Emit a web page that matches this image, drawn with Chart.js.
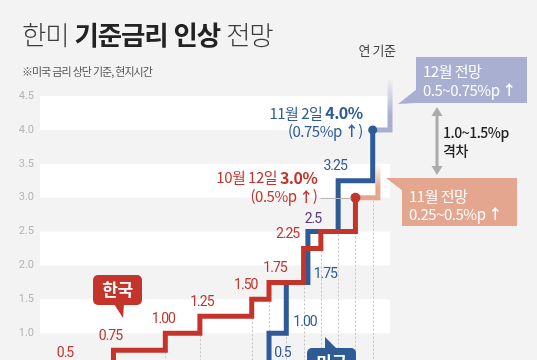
<!DOCTYPE html>
<html lang="ko">
<head>
<meta charset="utf-8">
<title>한미 기준금리 인상 전망</title>
<script src="https://cdn.jsdelivr.net/npm/chart.js@4.4.1/dist/chart.umd.min.js"></script>
<style>
  html, body { margin: 0; padding: 0; background: #f3f3f3; overflow: hidden; width: 537px; height: 360px; }
  #wrap { position: relative; width: 537px; height: 420px; }
  canvas { position: absolute; left: 0; top: 0; }
  #title { position: absolute; left: 22px; top: 21px; font-family: "Noto Sans CJK KR"; font-size: 26.5px; line-height: 1;
           color: #3c3c3c; letter-spacing: -1.2px; white-space: nowrap; }
  #title .thin { font-weight: 300; }
  #title b { font-weight: 700; color: #222; }
  #sub { position: absolute; left: 22px; top: 63px; font-family: "Noto Sans CJK KR"; font-size: 11px; color: #555;
         letter-spacing: -1px; white-space: nowrap; }
</style>
</head>
<body>
<div id="wrap">
  <canvas id="graph" width="537" height="420"></canvas>
  <div id="title"><span class="thin">한미</span> <b>기준금리 인상</b> <span class="thin">전망</span></div>
  <div id="sub">※미국 금리 상단 기준, 현지시간</div>
</div>
<script>
// x = months counted from 2021-04 (0) to 2022-12 (20)
const korMonths = [-0.25, 4, 7, 9, 12, 13, 15, 16, 18];
const korRates = [0.5, 0.75, 1.0, 1.25, 1.5, 1.75, 2.25, 2.5, 3.0];
const korLabels = ["0.5", "0.75", "1.00", "1.25", "1.50", "1.75", "2.25", "", ""];

const usMonths = [11, 13, 14, 15.25, 17, 19];
const usRates = [0.5, 1.0, 1.75, 2.5, 3.25, 4.0];
const usLabels = ["0.5", "1.00", "1.75", "2.5", "3.25", ""];

// outlook (Korea: Nov, US: Dec)
const korOutlookMonths = [18, 19.3];
const korOutlookRates = [3.0, 3.5];
const usOutlookMonths = [19, 20];
const usOutlookRates = [4.0, 4.75];

// dotted month guides under the Korea line
const guideMonths = [7, 9, 12, 13, 14, 15, 16, 17, 18, 19];

const RED = "#c5342b";
const BLUE = "#2e5a96";
const SALMON = "#e4a68f";
const LAVENDER = "#a9afd1";
const KR = "'Noto Sans CJK KR', sans-serif";

// label nudges (px)
const korLabelDx = [25, -3, -2, 2, -6, 6, -16];
const usLabelDx = [48, 36, 39, 5, -3];
const usLabelDy = [-14, -11, -8, -12, -14];

function toPoints(xs, ys) {
  return xs.map((x, i) => ({ x: x, y: ys[i] }));
}

function fade(color, clear, from, to) {
  return (c) => {
    const chart = c.chart;
    if (!chart.chartArea) return color;
    const y = chart.scales.y;
    const g = chart.ctx.createLinearGradient(0, y.getPixelForValue(from), 0, y.getPixelForValue(to));
    g.addColorStop(0, color);
    g.addColorStop(0.3, color);
    g.addColorStop(1, clear);
    return g;
  };
}

function korLevelAt(m) {
  let v = korRates[0];
  korMonths.forEach((km, i) => { if (km <= m) v = korRates[i]; });
  return v;
}

// draws mixed-font text; align "right" ends at x, "left" starts at x
function textParts(ctx, parts, x, y, align) {
  let w = 0;
  parts.forEach(p => { ctx.font = p.font; w += ctx.measureText(p.text).width; });
  let cx = align === "left" ? x : x - w;
  ctx.textAlign = "left";
  parts.forEach(p => {
    ctx.font = p.font;
    ctx.fillText(p.text, cx, y);
    cx += ctx.measureText(p.text).width;
  });
  return w;
}

function roundBox(ctx, x, y, w, h, r) {
  ctx.beginPath();
  ctx.roundRect(x, y, w, h, r);
  ctx.fill();
}

function tri(ctx, pts) {
  ctx.beginPath();
  ctx.moveTo(pts[0], pts[1]);
  ctx.lineTo(pts[2], pts[3]);
  ctx.lineTo(pts[4], pts[5]);
  ctx.closePath();
  ctx.fill();
}

const bands = {
  id: "bands",
  beforeDatasetsDraw(chart) {
    const { ctx, chartArea, scales: { x, y } } = chart;
    ctx.save();
    ctx.fillStyle = "#ffffff";
    for (let v = 4.5; v > 0; v -= 1) {
      const top = y.getPixelForValue(v);
      const bot = y.getPixelForValue(v - 0.5);
      ctx.fillRect(chartArea.left, top, chartArea.right - chartArea.left, bot - top);
    }
    ctx.strokeStyle = "#c4c4c4";
    ctx.lineWidth = 1;
    ctx.setLineDash([2, 2]);
    guideMonths.forEach(m => {
      const px = Math.round(x.getPixelForValue(m)) + 0.5;
      ctx.beginPath();
      ctx.moveTo(px, y.getPixelForValue(korLevelAt(m)) + 3);
      ctx.lineTo(px, chartArea.bottom);
      ctx.stroke();
    });
    ctx.restore();
  }
};

const overlay = {
  id: "overlay",
  afterDatasetsDraw(chart) {
    const { ctx, scales: { x, y } } = chart;
    ctx.save();
    ctx.textBaseline = "middle";

    // step labels
    ctx.letterSpacing = "-1px";
    ctx.font = "14px Roboto";
    ctx.textAlign = "center";
    ctx.fillStyle = RED;
    korLabels.forEach((t, i) => {
      if (!t) return;
      ctx.fillText(t, x.getPixelForValue(korMonths[i]) + korLabelDx[i], y.getPixelForValue(korRates[i]) - 14);
    });
    usLabels.forEach((t, i) => {
      if (!t) return;
      ctx.fillStyle = usRates[i] === 2.5 ? "#56397c" : BLUE;
      ctx.fillText(t, x.getPixelForValue(usMonths[i]) + usLabelDx[i], y.getPixelForValue(usRates[i]) + usLabelDy[i]);
    });
    ctx.letterSpacing = "-0.5px";

    const reg = "400 15px " + KR;
    const bold = "700 16px " + KR;
    const arrow = "700 14px " + KR;

    // US latest
    const ui = usRates.length - 1;
    const ux = x.getPixelForValue(usMonths[ui]);
    const uy = y.getPixelForValue(usRates[ui]);
    ctx.fillStyle = BLUE;
    textParts(ctx, [{ text: "11월 2일 ", font: reg }, { text: usRates[ui].toFixed(1) + "%", font: bold }], ux - 10, uy - 17);
    textParts(ctx, [{ text: "(0.75%p ", font: reg }, { text: "↑", font: arrow }, { text: ")", font: reg }], ux - 10, uy + 1);

    // Korea latest
    const ki = korRates.length - 1;
    const kx = x.getPixelForValue(korMonths[ki]);
    const ky = y.getPixelForValue(korRates[ki]);
    ctx.strokeStyle = "#b5b5b5";
    ctx.lineWidth = 1;
    ctx.beginPath();
    ctx.moveTo(kx - 35, Math.round(ky) + 0.5);
    ctx.lineTo(kx - 4, Math.round(ky) + 0.5);
    ctx.stroke();
    ctx.fillStyle = RED;
    textParts(ctx, [{ text: "10월 12일 ", font: reg }, { text: korRates[ki].toFixed(1) + "%", font: bold }], kx - 38, ky - 20);
    textParts(ctx, [{ text: "(0.5%p ", font: reg }, { text: "↑", font: arrow }, { text: ")", font: reg }], kx - 38, ky - 1);

    // "연 기준"
    ctx.fillStyle = "#444";
    ctx.font = "400 13px " + KR;
    ctx.textAlign = "center";
    ctx.fillText("연 기준", 377, 50);

    const boxFont = "400 15px " + KR;
    const boxArrow = "700 14px " + KR;

    // December outlook box
    ctx.fillStyle = LAVENDER;
    ctx.fillRect(416, 57, 111, 46);
    tri(ctx, [417, 89, 417, 103, 398, 104]);
    ctx.fillStyle = "#ffffff";
    textParts(ctx, [{ text: "12월 전망", font: boxFont }], 423, 71, "left");
    textParts(ctx, [{ text: "0.5~0.75%p ", font: boxFont }, { text: "↑", font: boxArrow }], 423, 90, "left");

    // November outlook box
    ctx.fillStyle = SALMON;
    ctx.fillRect(402, 178, 115, 48);
    tri(ctx, [386, 178, 403, 178, 403, 191]);
    ctx.fillStyle = "#ffffff";
    textParts(ctx, [{ text: "11월 전망", font: boxFont }], 409, 196, "left");
    textParts(ctx, [{ text: "0.25~0.5%p ", font: boxFont }, { text: "↑", font: boxArrow }], 409, 214, "left");

    // gap arrow
    ctx.fillStyle = "#ababab";
    ctx.fillRect(435.5, 114, 3, 54);
    tri(ctx, [437, 107, 431.5, 116, 442.5, 116]);
    tri(ctx, [437, 175, 431.5, 166, 442.5, 166]);
    ctx.fillStyle = "#222";
    ctx.font = "500 14px " + KR;
    ctx.textAlign = "left";
    ctx.fillText("1.0~1.5%p", 443, 133);
    ctx.fillText("격차", 443, 151);

    // country tags
    ctx.fillStyle = RED;
    roundBox(ctx, 93, 275, 49, 30, 5);
    tri(ctx, [114, 304, 124, 304, 123, 318]);
    ctx.fillStyle = BLUE;
    roundBox(ctx, 307, 348, 49, 30, 5);
    tri(ctx, [325, 349, 337, 349, 325, 337]);
    ctx.fillStyle = "#ffffff";
    ctx.font = "700 17px " + KR;
    ctx.textAlign = "center";
    ctx.fillText("한국", 117.5, 290);
    ctx.fillText("미국", 331.5, 363);

    ctx.restore();
  }
};

window.onload = function () {
  const ctx = document.getElementById("graph").getContext("2d");

  new Chart(ctx, {
    type: "line",
    data: {
      datasets: [{
        label: "한국",
        data: toPoints(korMonths, korRates),
        borderColor: RED,
        backgroundColor: RED,
        borderWidth: 5,
        stepped: true,
        pointRadius: (c) => (c.dataIndex === korRates.length - 1 ? 5 : 0),
        pointBorderWidth: 0,
        clip: false,
        order: 0
      }, {
        label: "미국",
        data: toPoints(usMonths, usRates),
        borderColor: BLUE,
        backgroundColor: BLUE,
        borderWidth: 5,
        stepped: true,
        pointRadius: (c) => (c.dataIndex === usRates.length - 1 ? 4.5 : 0),
        pointBorderWidth: 0,
        clip: false,
        order: 1
      }, {
        label: "한국 전망",
        data: toPoints(korOutlookMonths, korOutlookRates),
        borderColor: fade(SALMON, "rgba(228,166,143,0)", 3.0, 3.5),
        borderWidth: 5,
        stepped: true,
        pointRadius: 0,
        clip: false,
        order: 2
      }, {
        label: "미국 전망",
        data: toPoints(usOutlookMonths, usOutlookRates),
        borderColor: fade(LAVENDER, "rgba(169,175,209,0)", 4.0, 4.75),
        borderWidth: 5,
        stepped: true,
        pointRadius: 0,
        clip: false,
        order: 3
      }]
    },
    options: {
      responsive: false,
      animation: false,
      layout: { padding: { top: 96, right: 147, bottom: 19, left: 0 } },
      elements: { line: { borderJoinStyle: "miter", borderCapStyle: "butt" } },
      plugins: { legend: { display: false }, tooltip: { enabled: false } },
      scales: {
        x: { type: "linear", min: -0.25, max: 20, display: false },
        y: {
          min: 0,
          max: 4.5,
          afterFit(scale) { scale.width = 40; },
          ticks: {
            stepSize: 0.5,
            padding: 6,
            color: "#b4b4b4",
            font: { family: "Roboto", size: 11 },
            callback: (v) => v.toFixed(1)
          },
          grid: { display: false, drawTicks: false },
          border: { display: false }
        }
      }
    },
    plugins: [bands, overlay]
  });
};
</script>
</body>
</html>
